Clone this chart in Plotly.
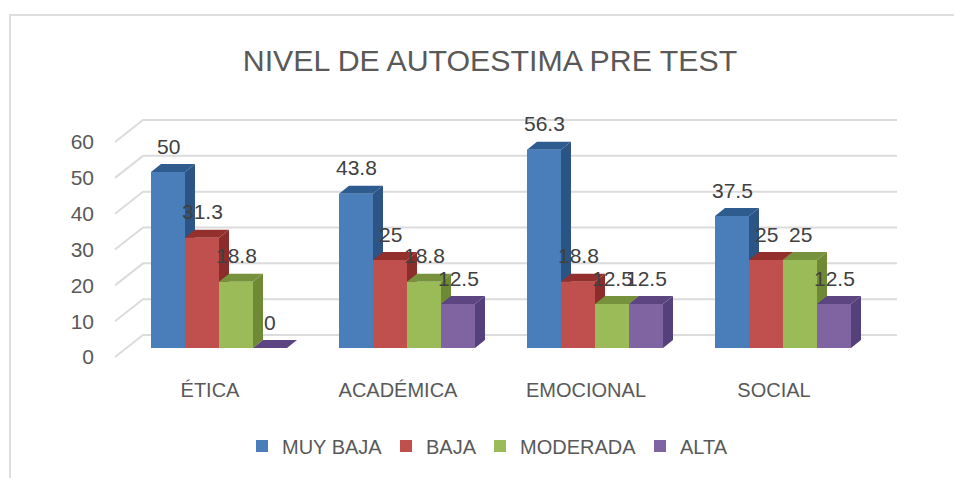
import plotly.graph_objects as go

categories = ["ÉTICA", "ACADÉMICA", "EMOCIONAL", "SOCIAL"]
series_names = ["MUY BAJA", "BAJA", "MODERADA", "ALTA"]
muy_baja = [50, 43.8, 56.3, 37.5]
baja = [31.3, 25, 18.8, 25]
moderada = [18.8, 18.8, 12.5, 25]
alta = [0, 12.5, 12.5, 12.5]
y_ticks = [0, 10, 20, 30, 40, 50, 60]

series_values = [muy_baja, baja, moderada, alta]
front_colors = ["#4a7ebb", "#c0504d", "#9bbb59", "#8064a2"]
side_colors = ["#2c5585", "#8c2d2b", "#6f8a35", "#54407a"]
top_colors = ["#2f5c8f", "#93302e", "#76923c", "#5c4580"]

WIDTH, HEIGHT = 954, 478
PLOT_L, PLOT_R, PLOT_T, PLOT_B = 95, 920, 100, 376

# pixel scales: one category = 188px, front plane 3.52px per unit, axis 3.583px per unit
X_PX = 188.0
LABEL_X0 = 210
FRONT_Y0, FRONT_PX = 348, 3.52
AXIS_Y0, AXIS_PX = 357, 3.583

x_range = [(PLOT_L - LABEL_X0) / X_PX, (PLOT_R - LABEL_X0) / X_PX]
front_range = [(FRONT_Y0 - PLOT_B) / FRONT_PX, (FRONT_Y0 - PLOT_T) / FRONT_PX]
axis_range = [(AXIS_Y0 - PLOT_B) / AXIS_PX, (AXIS_Y0 - PLOT_T) / AXIS_PX]

bar_w = 34 / X_PX
group_shift = 9 / X_PX
depth_x = 10 / X_PX
depth_y = 8 / FRONT_PX
positions = list(range(len(categories)))


def paper_x(px):
    return (px - PLOT_L) / (PLOT_R - PLOT_L)


def paper_y(px):
    return (PLOT_B - px) / (PLOT_B - PLOT_T)


fig = go.Figure()

# back wall: gridlines and the slanted ticks on the left wall
grid_shift = 22 / AXIS_PX
wall_x0 = (115 - LABEL_X0) / X_PX
wall_x1 = (143 - LABEL_X0) / X_PX
grid_x1 = (897 - LABEL_X0) / X_PX
grid_x, grid_y = [], []
for v in y_ticks:
    grid_x += [wall_x0, wall_x1, grid_x1, None]
    grid_y += [v, v + grid_shift, v + grid_shift, None]
fig.add_trace(go.Scatter(x=grid_x, y=grid_y, mode="lines", yaxis="y",
                         line=dict(color="#dcdcdc", width=2),
                         showlegend=False, hoverinfo="skip"))


def bar_x(i, j):
    return positions[i] + group_shift + (j - 2) * bar_w


# depth faces sit under the front faces
for j, values in enumerate(series_values):
    side_x, side_y, top_x, top_y = [], [], [], []
    for i, v in enumerate(values):
        left = bar_x(i, j)
        right = left + bar_w
        side_x += [right, right + depth_x, right + depth_x, right, right, None]
        side_y += [0, depth_y, v + depth_y, v, 0, None]
        top_x += [left, left + depth_x, right + depth_x, right, left, None]
        top_y += [v, v + depth_y, v + depth_y, v, v, None]
    fig.add_trace(go.Scatter(x=side_x, y=side_y, yaxis="y2", mode="none", fill="toself",
                             fillcolor=side_colors[j], showlegend=False, hoverinfo="skip"))
    fig.add_trace(go.Scatter(x=top_x, y=top_y, yaxis="y2", mode="none", fill="toself",
                             fillcolor=top_colors[j], showlegend=False, hoverinfo="skip"))

# front faces, one legend per series so each entry can sit where the reference has it
legend_ids = ["legend", "legend2", "legend3", "legend4"]
legend_left = [242, 386, 480, 640]
for j, values in enumerate(series_values):
    fig.add_trace(go.Bar(
        x=[bar_x(i, j) + bar_w / 2 for i in range(len(values))],
        y=values,
        width=bar_w,
        yaxis="y3",
        name=series_names[j],
        legend=legend_ids[j],
        marker=dict(color=front_colors[j], line=dict(width=0)),
    ))

annotations = []
for j, values in enumerate(series_values):
    for i, v in enumerate(values):
        annotations.append(dict(
            x=bar_x(i, j) + bar_w / 2, y=v, xref="x", yref="y3", yshift=26,
            text=str(v), showarrow=False,
            font=dict(size=21, color="#404040"),
        ))

legends = {}
for lid, left in zip(legend_ids, legend_left):
    legends[lid] = dict(orientation="h", x=paper_x(left), xanchor="left", y=paper_y(446),
                        yanchor="middle", font=dict(size=20, color="#595959"),
                        bgcolor="rgba(0,0,0,0)")

frame_color = "#dedede"
fig.update_layout(
    width=WIDTH,
    height=HEIGHT,
    margin=dict(l=PLOT_L, r=WIDTH - PLOT_R, t=PLOT_T, b=HEIGHT - PLOT_B, autoexpand=False),
    paper_bgcolor="white",
    plot_bgcolor="white",
    font=dict(family="Liberation Sans", color="#595959"),
    barmode="overlay",
    title=dict(text="NIVEL DE AUTOESTIMA PRE TEST", x=490 / WIDTH, xanchor="center",
               y=1 - 60 / HEIGHT, yanchor="middle",
               font=dict(size=30.3, color="#595959")),
    xaxis=dict(range=x_range, tickmode="array", tickvals=positions, ticktext=categories,
               showgrid=False, zeroline=False, showline=False, ticks="",
               tickfont=dict(size=20, color="#595959")),
    yaxis=dict(range=axis_range, tickmode="array", tickvals=y_ticks,
               showgrid=False, zeroline=False, showline=False, ticks="",
               tickfont=dict(size=21, color="#595959")),
    yaxis2=dict(range=front_range, overlaying="y", visible=False),
    yaxis3=dict(range=front_range, overlaying="y", visible=False),
    annotations=annotations,
    shapes=[
        dict(type="line", xref="paper", yref="paper", x0=paper_x(10), x1=paper_x(10),
             y0=paper_y(HEIGHT), y1=paper_y(15), line=dict(color=frame_color, width=2)),
        dict(type="line", xref="paper", yref="paper", x0=paper_x(9), x1=paper_x(WIDTH),
             y0=paper_y(15), y1=paper_y(15), line=dict(color=frame_color, width=2)),
    ],
    **legends,
)

fig.write_html("out.html", config={"displayModeBar": False},
               post_script="document.body.style.margin='0';")
